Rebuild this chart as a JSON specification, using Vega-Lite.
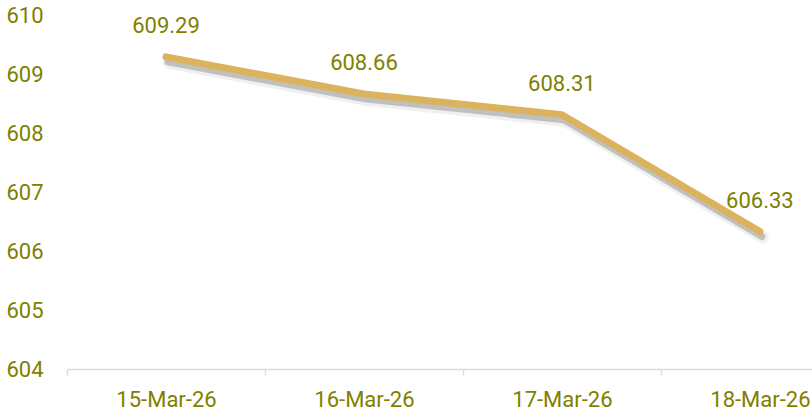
{
  "$schema": "https://vega.github.io/schema/vega-lite/v6.json",
  "autosize": {"type": "none"},
  "width": 745,
  "height": 354,
  "padding": {"left": 67, "top": 15, "right": 0, "bottom": 49},
  "background": "white",
  "config": {"view": {"stroke": null}, "font": "Roboto"},
  "data": {"values": [
    {"date": "2026-03-15T00:00:00Z", "value": 609.29},
    {"date": "2026-03-16T00:00:00Z", "value": 608.66},
    {"date": "2026-03-17T00:00:00Z", "value": 608.31},
    {"date": "2026-03-18T00:00:00Z", "value": 606.33}
  ]},
  "encoding": {
    "x": {
      "field": "date", "type": "temporal",
      "scale": {"type": "utc", "domain": ["2026-03-14T12:00:00Z", "2026-03-18T06:19:00Z"]},
      "axis": {
        "title": null,
        "values": [
          {"year": 2026, "month": 3, "date": 15, "utc": true},
          {"year": 2026, "month": 3, "date": 16, "utc": true},
          {"year": 2026, "month": 3, "date": 17, "utc": true},
          {"year": 2026, "month": 3, "date": 18, "utc": true}
        ],
        "format": "%d-%b-%y",
        "tickOffset": -99,
        "labelOffset": 99,
        "tickSize": 6,
        "tickColor": "#dcdcdc",
        "tickWidth": 1.5,
        "domainColor": "#dcdcdc",
        "domainWidth": 1.5,
        "grid": false,
        "labelFont": "Roboto",
        "labelFontSize": 22,
        "labelColor": "#7f7f00",
        "labelBaseline": "top",
        "labelPadding": 14,
        "labelFlush": false,
        "labelOverlap": false
      }
    },
    "y": {
      "field": "value", "type": "quantitative",
      "scale": {"domain": [604, 610], "nice": false, "zero": false},
      "axis": {
        "title": null,
        "values": [604, 605, 606, 607, 608, 609, 610],
        "domain": false,
        "ticks": false,
        "tickSize": 0,
        "grid": false,
        "labelFont": "Roboto",
        "labelFontSize": 22,
        "labelColor": "#7f7f00",
        "labelPadding": 24,
        "labelFlush": false,
        "labelOverlap": false
      }
    }
  },
  "layer": [
    {"mark": {"type": "line", "stroke": "#000000", "strokeWidth": 12, "opacity": 0.06, "xOffset": 3, "yOffset": 6, "strokeCap": "round", "strokeJoin": "round"}},
    {"mark": {"type": "line", "stroke": "#000000", "strokeWidth": 7, "opacity": 0.2, "xOffset": 2, "yOffset": 5, "strokeCap": "round", "strokeJoin": "round"}},
    {"mark": {"type": "line", "stroke": "#DBB35E", "strokeWidth": 7, "strokeCap": "round", "strokeJoin": "round"}},
    {"mark": {"type": "text", "font": "Roboto", "fontSize": 22, "fill": "#7f7f00", "baseline": "alphabetic", "dy": -24},
     "encoding": {"text": {"field": "value", "type": "quantitative", "format": ".2f"}}}
  ]
}
